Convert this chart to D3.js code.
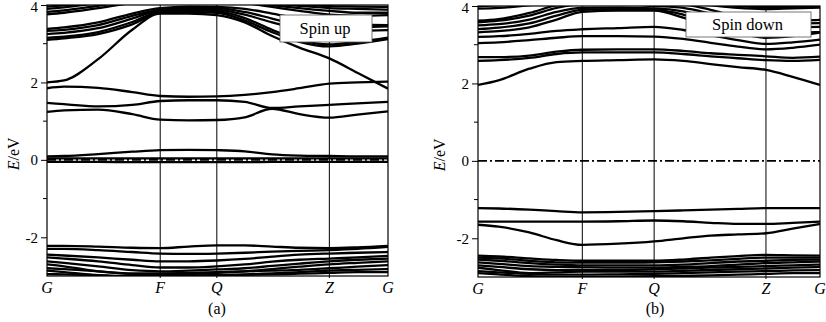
<!DOCTYPE html>
<html><head><meta charset="utf-8">
<script src="https://cdn.jsdelivr.net/npm/d3@7/dist/d3.min.js"></script>
<style>
html,body{margin:0;padding:0;background:#fff;}
svg{display:block;}
svg text{font-family:"Liberation Serif","Times New Roman","DejaVu Serif",serif;fill:#000;}
</style></head>
<body><svg id="chart" width="826" height="322"></svg>
<script>
// ---------- DATA ----------
const symLabels = ["G", "F", "Q", "Z", "G"];
const symPosUp = [0, 0.332, 0.498, 0.828, 1];
const symPosDown = [0, 0.305, 0.515, 0.842, 1];
const yTickMajor = [4, 2, 0, -2];
const yTickMinor = [3, 1, -1];
const panelLabels = ["(a)", "(b)"];
const legendLabels = ["Spin up", "Spin down"];

// k sample positions along the path (fraction of path)
const kUp = [0, 0.05, 0.15, 0.25, 0.332, 0.415, 0.498, 0.58, 0.66, 0.74, 0.828, 0.91, 1];
const kDown = [0, 0.06, 0.15, 0.23, 0.305, 0.41, 0.515, 0.6, 0.68, 0.76, 0.842, 0.92, 1];

// Spin up: conduction bands (eV)
const upConduction = [
  [2.00, 2.05, 2.60, 3.36, 3.78, 3.78, 3.74, 3.55, 3.20, 2.90, 2.62, 2.25, 1.84],
  [1.85, 1.89, 1.86, 1.75, 1.65, 1.63, 1.64, 1.68, 1.75, 1.85, 1.97, 2.00, 2.02],
  [1.47, 1.44, 1.38, 1.42, 1.52, 1.54, 1.54, 1.50, 1.34, 1.38, 1.42, 1.46, 1.50],
  [1.24, 1.28, 1.30, 1.18, 1.04, 1.02, 1.03, 1.10, 1.32, 1.18, 1.09, 1.17, 1.25],
  [3.10, 3.14, 3.25, 3.50, 3.80, 3.82, 3.80, 3.60, 3.30, 3.05, 2.93, 3.00, 3.12],
  [3.15, 3.18, 3.30, 3.56, 3.83, 3.86, 3.84, 3.66, 3.36, 3.10, 2.98, 3.05, 3.16],
  [3.25, 3.28, 3.40, 3.65, 3.86, 3.90, 3.88, 3.75, 3.55, 3.38, 3.30, 3.33, 3.35],
  [3.33, 3.36, 3.48, 3.72, 3.88, 3.93, 3.92, 3.82, 3.65, 3.48, 3.40, 3.42, 3.45],
  [3.38, 3.42, 3.55, 3.78, 3.92, 3.96, 3.95, 3.90, 3.78, 3.65, 3.55, 3.50, 3.48],
  [3.76, 3.80, 3.92, 4.05, 4.10, 4.10, 4.10, 4.05, 3.95, 3.85, 3.75, 3.72, 3.74],
  [3.82, 3.86, 3.98, 4.10, 4.15, 4.15, 4.15, 4.10, 4.00, 3.92, 3.85, 3.80, 3.80],
  [3.90, 3.94, 4.05, 4.15, 4.20, 4.20, 4.20, 4.15, 4.05, 3.98, 3.92, 3.90, 3.88],
  [3.96, 3.99, 4.10, 4.20, 4.25, 4.25, 4.25, 4.20, 4.10, 4.02, 3.97, 3.96, 3.95]
];
// Spin up: bands near the Fermi level (eV)
const upFermi = [
  [0.09, 0.10, 0.15, 0.21, 0.25, 0.26, 0.25, 0.22, 0.14, 0.11, 0.10, 0.09, 0.09],
  [0.04, 0.04, 0.04, 0.04, 0.04, 0.04, 0.04, 0.04, 0.04, 0.04, 0.04, 0.04, 0.04],
  [-0.05, -0.05, -0.05, -0.06, -0.06, -0.06, -0.06, -0.06, -0.05, -0.05, -0.05, -0.05, -0.05]
];
// Spin up: valence bands (eV)
const upValence = [
  [-2.22, -2.22, -2.24, -2.27, -2.28, -2.24, -2.21, -2.21, -2.24, -2.27, -2.28, -2.26, -2.22],
  [-2.30, -2.30, -2.33, -2.38, -2.42, -2.43, -2.42, -2.40, -2.37, -2.35, -2.33, -2.30, -2.25],
  [-2.45, -2.47, -2.52, -2.58, -2.62, -2.62, -2.60, -2.56, -2.50, -2.45, -2.42, -2.40, -2.38],
  [-2.52, -2.55, -2.62, -2.72, -2.78, -2.78, -2.75, -2.70, -2.63, -2.58, -2.55, -2.52, -2.48],
  [-2.62, -2.66, -2.75, -2.85, -2.88, -2.86, -2.83, -2.80, -2.74, -2.68, -2.62, -2.58, -2.55],
  [-2.70, -2.75, -2.88, -2.95, -2.97, -2.95, -2.92, -2.88, -2.82, -2.76, -2.70, -2.66, -2.62],
  [-2.80, -2.82, -2.88, -2.93, -2.93, -2.92, -2.90, -2.88, -2.86, -2.84, -2.80, -2.76, -2.72],
  [-2.86, -2.90, -2.98, -3.02, -3.02, -3.00, -2.98, -2.96, -2.93, -2.90, -2.86, -2.84, -2.82],
  [-2.95, -2.96, -2.98, -3.00, -3.00, -2.99, -2.98, -2.97, -2.96, -2.94, -2.92, -2.90, -2.90]
];

// Spin down: conduction bands (eV)
const downConduction = [
  [1.96, 2.08, 2.38, 2.55, 2.58, 2.60, 2.62, 2.58, 2.50, 2.42, 2.35, 2.17, 1.96],
  [2.58, 2.60, 2.66, 2.76, 2.80, 2.80, 2.80, 2.76, 2.70, 2.65, 2.60, 2.58, 2.61],
  [2.68, 2.68, 2.72, 2.82, 2.87, 2.88, 2.88, 2.84, 2.78, 2.74, 2.70, 2.66, 2.69],
  [3.04, 3.06, 3.12, 3.18, 3.22, 3.22, 3.21, 3.15, 3.05, 2.95, 2.88, 2.92, 3.00],
  [3.20, 3.22, 3.28, 3.36, 3.40, 3.43, 3.46, 3.38, 3.25, 3.12, 3.02, 3.06, 3.13],
  [3.32, 3.35, 3.45, 3.65, 3.85, 3.88, 3.88, 3.70, 3.45, 3.30, 3.18, 3.22, 3.31],
  [3.40, 3.44, 3.55, 3.75, 3.90, 3.92, 3.90, 3.78, 3.55, 3.40, 3.28, 3.30, 3.33],
  [3.50, 3.53, 3.65, 3.85, 3.95, 3.96, 3.94, 3.86, 3.68, 3.52, 3.42, 3.45, 3.46],
  [3.58, 3.62, 3.75, 3.95, 4.05, 4.05, 4.00, 3.95, 3.80, 3.62, 3.52, 3.55, 3.56],
  [3.62, 3.66, 3.82, 4.02, 4.10, 4.10, 4.10, 4.05, 3.90, 3.72, 3.60, 3.62, 3.64],
  [3.93, 3.95, 4.02, 4.12, 4.15, 4.15, 4.15, 4.10, 4.02, 3.95, 3.92, 3.94, 3.96],
  [3.99, 4.02, 4.10, 4.20, 4.20, 4.20, 4.20, 4.15, 4.08, 4.00, 3.97, 3.98, 4.00]
];
// Spin down: valence bands (eV)
const downValence = [
  [-1.22, -1.23, -1.26, -1.30, -1.33, -1.32, -1.30, -1.28, -1.26, -1.24, -1.22, -1.22, -1.22],
  [-1.57, -1.57, -1.57, -1.57, -1.57, -1.56, -1.54, -1.56, -1.60, -1.63, -1.63, -1.60, -1.57],
  [-1.65, -1.70, -1.85, -2.05, -2.17, -2.14, -2.08, -2.00, -1.93, -1.90, -1.87, -1.75, -1.63],
  [-2.45, -2.47, -2.52, -2.56, -2.58, -2.58, -2.58, -2.55, -2.50, -2.46, -2.43, -2.44, -2.45],
  [-2.50, -2.52, -2.58, -2.62, -2.63, -2.63, -2.62, -2.60, -2.57, -2.53, -2.50, -2.50, -2.50],
  [-2.55, -2.58, -2.64, -2.68, -2.70, -2.70, -2.70, -2.68, -2.64, -2.60, -2.58, -2.56, -2.55],
  [-2.62, -2.66, -2.72, -2.74, -2.75, -2.76, -2.76, -2.74, -2.72, -2.68, -2.64, -2.62, -2.60],
  [-2.70, -2.74, -2.80, -2.82, -2.82, -2.82, -2.80, -2.78, -2.76, -2.74, -2.72, -2.70, -2.68],
  [-2.76, -2.82, -2.90, -2.88, -2.86, -2.86, -2.86, -2.84, -2.82, -2.80, -2.78, -2.76, -2.74],
  [-2.85, -2.88, -2.92, -2.94, -2.94, -2.93, -2.92, -2.90, -2.88, -2.86, -2.85, -2.83, -2.82],
  [-2.90, -2.93, -2.98, -3.00, -3.00, -2.99, -2.98, -2.97, -2.96, -2.94, -2.92, -2.90, -2.90]
];

// ---------- DRAW ----------
const FONT = "Liberation Serif, Times New Roman, DejaVu Serif, serif";
const svg = d3.select("#chart");
svg.append("rect").attr("width", 826).attr("height", 322).attr("fill", "#fff");

const panels = [
  { id: "a", left: 47, right: 388, top: 5, bottom: 276, k: kUp, sym: symPosUp,
    bands: upConduction.concat(upFermi, upValence), label: panelLabels[0], legend: legendLabels[0],
    legBox: [280, 15, 92, 27], ylabX: 19, labX: 217 },
  { id: "b", left: 478, right: 820, top: 6, bottom: 277, k: kDown, sym: symPosDown,
    bands: downConduction.concat(downValence), label: panelLabels[1], legend: legendLabels[1],
    legBox: [686, 12, 125, 25], ylabX: 445, labX: 655 }
];

panels.forEach(p => {
  const x = d3.scaleLinear().domain([0, 1]).range([p.left, p.right]);
  const y = d3.scaleLinear().domain([-3, 4]).range([p.bottom, p.top]);
  const g = svg.append("g");

  g.append("clipPath").attr("id", "clip-" + p.id)
    .append("rect").attr("x", p.left).attr("y", p.top)
    .attr("width", p.right - p.left).attr("height", p.bottom - p.top);

  const line = d3.line().x((d, i) => x(p.k[i])).y(d => y(d)).curve(d3.curveMonotoneX);
  const bandG = g.append("g").attr("clip-path", "url(#clip-" + p.id + ")");
  bandG.selectAll("path.band").data(p.bands).enter().append("path")
    .attr("class", "band").attr("d", line)
    .attr("fill", "none").attr("stroke", "#000").attr("stroke-width", 2.3)
    .attr("stroke-linejoin", "round");

  // Fermi level dash-dot line
  bandG.append("line").attr("x1", p.left).attr("x2", p.right)
    .attr("y1", y(0)).attr("y2", y(0))
    .attr("stroke", "#000").attr("stroke-width", 1.6)
    .attr("stroke-dasharray", "9,3,2,3");

  // symmetry lines
  g.selectAll("line.sym").data(p.sym.slice(1, 4)).enter().append("line")
    .attr("x1", d => x(d)).attr("x2", d => x(d))
    .attr("y1", p.top).attr("y2", p.bottom + 2)
    .attr("stroke", "#000").attr("stroke-width", 1);

  // frame
  g.append("rect").attr("x", p.left).attr("y", p.top)
    .attr("width", p.right - p.left).attr("height", p.bottom - p.top)
    .attr("fill", "none").attr("stroke", "#000").attr("stroke-width", 1.2);

  // y axis ticks
  const yAxis = d3.axisLeft(y).tickValues(yTickMajor).tickSize(6).tickPadding(3)
    .tickFormat(d => d < 0 ? "-" + Math.abs(d) : String(d));
  const ya = g.append("g").attr("transform", `translate(${p.left},0)`).call(yAxis)
    .attr("font-family", FONT).attr("font-size", 15);
  ya.select(".domain").remove();
  ya.selectAll("line").attr("stroke", "#000");
  ya.selectAll("text").attr("font-family", FONT).attr("font-size", 15).attr("fill", "#000")
    .attr("dy", d => d === 4 ? "0.45em" : "0.32em");
  g.selectAll("line.minor").data(yTickMinor).enter().append("line")
    .attr("x1", p.left - 4).attr("x2", p.left).attr("y1", d => y(d)).attr("y2", d => y(d))
    .attr("stroke", "#000").attr("stroke-width", 1);

  // x labels
  g.selectAll("text.sym").data(p.sym).enter().append("text")
    .attr("x", d => x(d)).attr("y", p.bottom + 17)
    .attr("text-anchor", "middle").attr("font-family", FONT)
    .attr("font-size", 16).attr("font-style", "italic")
    .text((d, i) => symLabels[i]);

  // panel label
  g.append("text").attr("x", p.labX).attr("y", 314)
    .attr("text-anchor", "middle").attr("font-family", FONT).attr("font-size", 16).text(p.label);

  // y axis label
  const yl = g.append("text")
    .attr("transform", `translate(${p.ylabX},${y(0) - 6}) rotate(-90)`)
    .attr("text-anchor", "middle").attr("font-family", FONT).attr("font-size", 16);
  yl.append("tspan").attr("font-style", "italic").text("E");
  yl.append("tspan").text("/eV");

  // legend
  const lb = p.legBox;
  g.append("rect").attr("x", lb[0]).attr("y", lb[1]).attr("width", lb[2]).attr("height", lb[3])
    .attr("fill", "#fff").attr("stroke", "#555").attr("stroke-width", 0.8);
  g.append("text").attr("x", lb[0] + lb[2] / 2 - 1).attr("y", lb[1] + lb[3] / 2 + 5)
    .attr("text-anchor", "middle").attr("font-family", FONT).attr("font-size", 16.5).text(p.legend);
});
</script></body></html>
